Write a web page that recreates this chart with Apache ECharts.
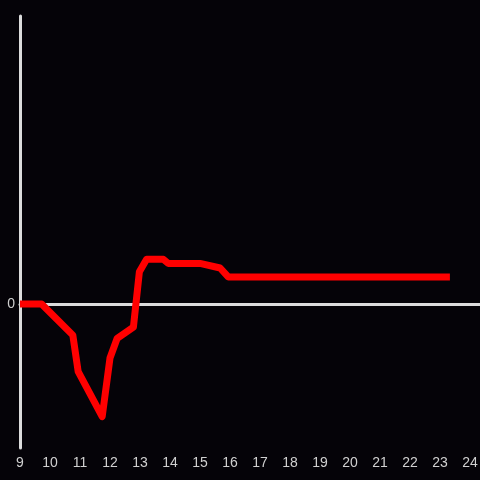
<!DOCTYPE html>
<html>
<head>
<meta charset="utf-8">
<script src="https://cdn.jsdelivr.net/npm/echarts@6/dist/echarts.min.js"></script>
<style>
  html, body { margin: 0; padding: 0; background: #050308; }
  #main { width: 480px; height: 480px; }
</style>
</head>
<body>
<div id="main"></div>
<script>
// hour of day and value
var hours = [9, 9.72, 10.76, 10.94, 11.74, 12.0, 12.24, 12.78, 12.98, 13.22, 13.78, 13.94, 15.0, 15.67, 15.94, 23.33];
var values = [0, 0, -1.08, -2.35, -3.91, -1.875, -1.19, -0.8, 1.12, 1.55, 1.55, 1.41, 1.41, 1.25, 0.94, 0.94];
var hourTicks = [9, 10, 11, 12, 13, 14, 15, 16, 17, 18, 19, 20, 21, 22, 23, 24];

var dom = document.getElementById('main');
var myChart = echarts.init(dom);

var points = hours.map(function (h, i) { return [h, values[i]]; });

var option = {
    backgroundColor: '#050308',
    animation: false,
    grid: { left: 20, right: 0, top: 16, bottom: 32, containLabel: false, outerBoundsMode: 'none' },
    xAxis: [
        {
            type: 'value',
            min: 9,
            max: 24 + 1 / 3,
            interval: 1,
            position: 'bottom',
            axisLine: { show: false, onZero: false },
            axisTick: { show: false },
            splitLine: { show: false },
            axisLabel: {
                color: '#d0d0d0',
                fontSize: 14,
                fontFamily: 'Liberation Sans',
                margin: 8,
                showMaxLabel: false,
                formatter: function (v) {
                    return hourTicks.indexOf(v) >= 0 ? String(v) : '';
                }
            }
        },
        {
            // zero line
            type: 'value',
            min: 9,
            max: 24 + 1 / 3,
            position: 'bottom',
            axisLine: { show: true, onZero: true, lineStyle: { color: '#dcdcdc', width: 3 } },
            axisTick: { show: false },
            axisLabel: { show: false },
            splitLine: { show: false }
        }
    ],
    yAxis: {
        type: 'value',
        min: -5,
        max: 10,
        interval: 5,
        axisLine: { show: true, lineStyle: { color: '#dcdcdc', width: 3 } },
        axisTick: { show: false },
        splitLine: { show: false },
        axisLabel: {
            color: '#d0d0d0',
            fontSize: 14,
            fontFamily: 'Liberation Sans',
            margin: 5,
            formatter: function (v) { return v === 0 ? '0' : ''; }
        }
    },
    series: [
        {
            type: 'line',
            data: points,
            showSymbol: false,
            symbol: 'none',
            lineStyle: { color: '#ff0000', width: 7, join: 'round' }
        }
    ]
};

if (option && typeof option === 'object') {
    myChart.setOption(option);
}
</script>
</body>
</html>
